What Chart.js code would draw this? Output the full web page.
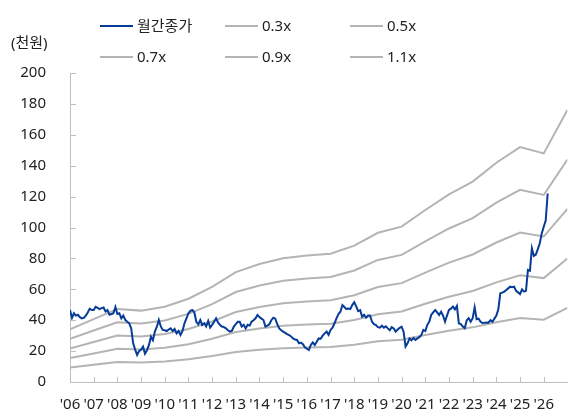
<!DOCTYPE html>
<html>
<head>
<meta charset="utf-8">
<script src="https://cdn.jsdelivr.net/npm/chart.js@4.4.1/dist/chart.umd.min.js"></script>
<style>
  html, body { margin: 0; padding: 0; background: #fff; }
  #wrap { position: relative; width: 568px; height: 419px; overflow: hidden; }
  #c { position: absolute; left: 0; top: 0; }
  .lg { position: absolute; font-family: 'Noto Sans', 'Noto Sans CJK KR', sans-serif; font-size: 15px; color: #222; white-space: nowrap; line-height: 18px; }
  .lg i { display: inline-block; width: 33px; height: 2px; vertical-align: middle; margin-right: 4px; position: relative; top: -1px; }
  #unit { position: absolute; left: 11px; top: 33px; font-family: 'Noto Sans', 'Noto Sans CJK KR', sans-serif; font-size: 15px; color: #222; line-height: 18px; }
</style>
</head>
<body>
<div id="wrap">
  <canvas id="c" width="568" height="419"></canvas>
  <div id="unit">(천원)</div>
</div>
<script>
// ---- data ----
const seriesNames = ['월간종가', '0.3x', '0.5x', '0.7x', '0.9x', '1.1x'];
const unitLabel = '(천원)';
const priceStartYear = 2006; // monthly closes from Jan 2006
const monthlyClose = [
  46.6,41.5,44.5,43,43.5,42,41.2,41.5,43,45,47.5,46.6,
  46.6,48.7,48,47.2,47.8,48.2,45.6,46.6,43.5,44,44.5,48.5,
  44,44.5,41.2,43,40.2,39,38,34.8,25,21,17.5,20,
  21,22.9,18.3,20.5,24,29.3,27,32.6,35.8,40.1,36,33.7,
  33.5,33,34,34.7,33,34.3,31.5,33,30.4,33,38,41.2,
  44.5,46,46.6,45,39,37.3,40.1,36.9,38,35.9,39.5,35.2,
  37,39,41.2,38.5,36.9,35.9,35.5,34.7,33.5,32.6,33,35.9,
  37.5,39,39,35.9,37,34.7,37,36.5,39,40,41.2,43.4,
  42,41,40.1,35.9,36.5,37.4,40,41.6,41,37.4,34.7,33.5,
  32.6,31.8,31,30.4,29.5,28.2,27.5,27.2,25,25.5,24.5,22.5,
  21.5,20.7,24,25.7,24,26,28.2,28,30,31.5,32.6,30.5,
  33.7,35.2,38,41.2,44,45.5,49.8,48.5,47.2,47.5,47.2,49.8,
  51.6,49,45.9,46.5,42.3,43.5,41.6,43,43,39,37.4,36.9,
  35.5,35.2,36.5,35.2,36,34.7,33.5,35.5,34.7,32.6,34,35,
  35.8,32.6,22.9,25,28.2,27,28.5,27.2,28.2,29,30.4,33.7,
  33,37,39,43.4,45,46.6,45,43.4,45.5,43,39,43,
  46.6,47.5,48.8,47,49.2,37.9,37.5,35.9,34.8,40,41.3,39,
  41.3,48.3,40.6,41,39,38.2,38.3,38.5,38.4,40,39,41,
  43,47,57.4,57.8,58.5,59.5,60.6,61.7,61.3,61.7,59,58,
  56.9,60,58.5,59,72.5,72,86.5,81.6,82.5,86,89.8,96.2,
  100.5,104.5,122
];
const bpsYears = [2006,2007,2008,2009,2010,2011,2012,2013,2014,2015,2016,2017,2018,2019,2020,2021,2022,2023,2024,2025,2026,2027];
const bpsValues = [31,37,43,42,44.3,49,56,64.7,69.4,72.8,74.5,75.5,80.2,87.8,91.4,101.2,110.4,117.9,129,138.2,134.5,160];
const pbrMultiples = [0.3, 0.5, 0.7, 0.9, 1.1];
const xTickYears = [2006,2007,2008,2009,2010,2011,2012,2013,2014,2015,2016,2017,2018,2019,2020,2021,2022,2023,2024,2025,2026];
const xTickLabels = ["'06","'07","'08","'09","'10","'11","'12","'13","'14","'15","'16","'17","'18","'19","'20","'21","'22","'23","'24","'25","'26"];
const yTicks = [0,20,40,60,80,100,120,140,160,180,200];

// ---- build datasets ----
const BLUE = '#063B98';
const GRAY = '#B4B4B4';
const FONT = "'Noto Sans', 'Noto Sans CJK KR', sans-serif";

const priceData = monthlyClose.map((v, i) => ({ x: priceStartYear + i / 12, y: v }));
const bandSets = pbrMultiples.map((m, k) => ({
  label: seriesNames[k + 1],
  data: bpsYears.map((yr, i) => ({ x: yr, y: bpsValues[i] * m })),
  borderColor: GRAY, borderWidth: 2, pointRadius: 0, tension: 0, fill: false
}));
const datasets = [{
  label: seriesNames[0], data: priceData, borderColor: BLUE, borderWidth: 2,
  pointRadius: 0, tension: 0, fill: false
}].concat(bandSets);

// inside tick marks
const innerTicks = {
  id: 'innerTicks',
  afterDraw(chart) {
    const ctx = chart.ctx, xs = chart.scales.x, ys = chart.scales.y;
    const ca = chart.chartArea;
    ctx.save();
    ctx.strokeStyle = '#BFBFBF'; ctx.lineWidth = 1;
    ctx.beginPath();
    xs.ticks.forEach(t => { const p = Math.round(xs.getPixelForValue(t.value)) + 0.5; ctx.moveTo(p, ca.bottom); ctx.lineTo(p, ca.bottom - 5); });
    ys.ticks.forEach(t => { const p = Math.round(ys.getPixelForValue(t.value)) + 0.5; ctx.moveTo(ca.left, p); ctx.lineTo(ca.left + 6, p); });
    ctx.stroke();
    ctx.restore();
  }
};

new Chart(document.getElementById('c'), {
  type: 'line',
  data: { datasets },
  options: {
    responsive: false, animation: false, devicePixelRatio: 1,
    layout: { padding: { top: 73, right: 0, bottom: 0, left: 0 } },
    plugins: { legend: { display: false }, tooltip: { enabled: false } },
    scales: {
      x: {
        type: 'linear', min: 2006, max: 2027,
        afterFit(s) { s.height = 37; },
        afterBuildTicks(s) { s.ticks = xTickYears.map(v => ({ value: v })); },
        ticks: {
          autoSkip: false, maxRotation: 0, minRotation: 0, padding: 14,
          color: '#222', font: { family: FONT, size: 15 },
          callback(v) { const i = xTickYears.indexOf(v); return i >= 0 ? xTickLabels[i] : ''; }
        },
        grid: { display: true, drawOnChartArea: false, drawTicks: false },
        border: { display: true, color: '#BFBFBF', width: 1 }
      },
      y: {
        min: 0, max: 200,
        afterFit(s) { s.width = 70; },
        afterBuildTicks(s) { s.ticks = yTicks.map(v => ({ value: v })); },
        ticks: { padding: 24, color: '#222', font: { family: FONT, size: 15 } },
        grid: { display: true, drawOnChartArea: false, drawTicks: false },
        border: { display: true, color: '#BFBFBF', width: 1 }
      }
    }
  },
  plugins: [innerTicks]
});

// legend (HTML, built from dataset labels/colours)
const wrap = document.getElementById('wrap');
const legendCols = [100, 225, 350];
const legendRows = [16, 47];
datasets.forEach((ds, i) => {
  const d = document.createElement('div');
  d.className = 'lg';
  d.style.left = legendCols[i % 3] + 'px';
  d.style.top = legendRows[Math.floor(i / 3)] + 'px';
  const sw = document.createElement('i');
  sw.style.background = ds.borderColor;
  d.appendChild(sw);
  d.appendChild(document.createTextNode(ds.label));
  wrap.appendChild(d);
});
document.getElementById('unit').textContent = unitLabel;
</script>
</body>
</html>
